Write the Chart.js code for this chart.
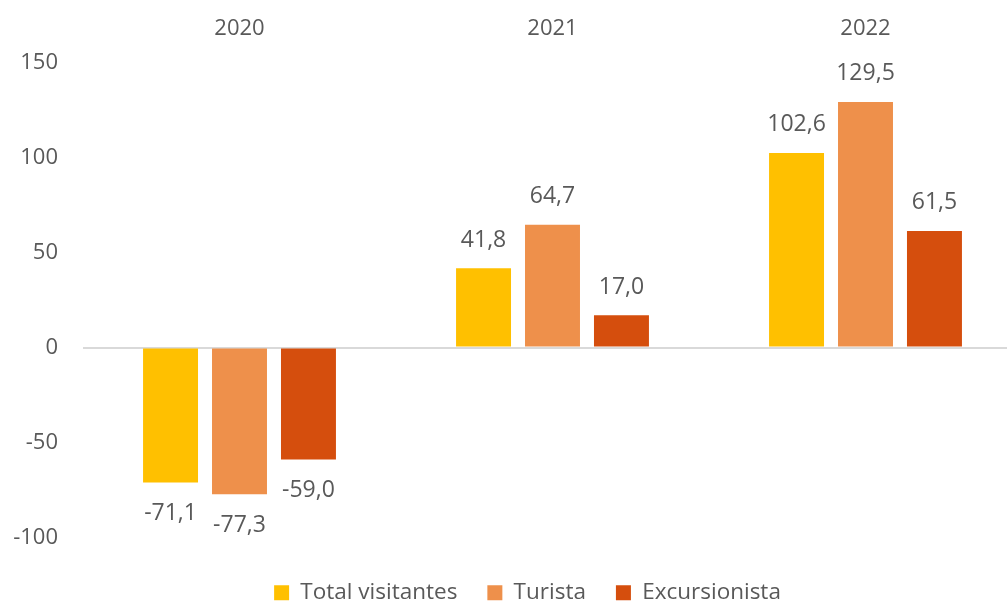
<!DOCTYPE html>
<html>
<head>
<meta charset="utf-8">
<script src="https://cdn.jsdelivr.net/npm/chart.js@4.4.1/dist/chart.umd.min.js"></script>
<style>
html,body{margin:0;padding:0;background:#fff;overflow:hidden;width:1007px;height:601px;}
#wrap{position:relative;width:1055px;height:614px;}
</style>
</head>
<body>
<div id="wrap"><canvas id="c"></canvas></div>
<script>
const categories = ['2020', '2021', '2022'];
const totalVisitantes = [-71.1, 41.8, 102.6];
const turista = [-77.3, 64.7, 129.5];
const excursionista = [-59.0, 17.0, 61.5];
const seriesNames = ['Total visitantes', 'Turista', 'Excursionista'];
const seriesColors = ['#FFC000', '#EE904B', '#D54E0D'];
const yMin = -100, yMax = 150, yStep = 50;

const textColor = '#595959';
const fontFamily = '"Open Sans", "Segoe UI", sans-serif';

const valueLabels = {
  id: 'valueLabels',
  afterDatasetsDraw(chart) {
    const ctx = chart.ctx;
    ctx.save();
    ctx.font = '23px ' + fontFamily;
    ctx.fillStyle = textColor;
    ctx.textAlign = 'center';
    ctx.textBaseline = 'middle';
    chart.data.datasets.forEach((ds, i) => {
      const meta = chart.getDatasetMeta(i);
      meta.data.forEach((bar, j) => {
        const v = ds.data[j];
        const txt = v.toFixed(1).replace('.', ',');
        const y = v >= 0 ? bar.y - 28 : bar.y + 31;
        ctx.fillText(txt, bar.x, y);
      });
    });
    ctx.restore();
  }
};

const legendShift = {
  id: 'legendShift',
  afterLayout(chart) {
    if (chart.legend) {
      chart.legend.left += 11;
      chart.legend.right += 11;
    }
  }
};

new Chart(document.getElementById('c'), {
  type: 'bar',
  data: {
    labels: categories,
    datasets: [
      { label: seriesNames[0], data: totalVisitantes, backgroundColor: seriesColors[0] },
      { label: seriesNames[1], data: turista, backgroundColor: seriesColors[1] },
      { label: seriesNames[2], data: excursionista, backgroundColor: seriesColors[2] }
    ]
  },
  options: {
    responsive: true,
    maintainAspectRatio: false,
    animation: false,
    devicePixelRatio: 1,
    datasets: { bar: { categoryPercentage: 0.661, barPercentage: 0.797 } },
    layout: { padding: { top: 14, left: 11, right: 33, bottom: 0 } },
    plugins: {
      tooltip: { enabled: false },
      legend: {
        position: 'bottom',
        title: { display: true, text: '', font: { size: 1 }, padding: { top: 13, bottom: 0 } },
        labels: {
          color: textColor,
          font: { family: fontFamily, size: 22.5 },
          boxWidth: 15,
          boxHeight: 15,
          padding: 30
        }
      }
    },
    scales: {
      x: {
        position: 'top',
        grid: { display: false, drawTicks: false },
        border: { display: false },
        ticks: { color: textColor, font: { family: fontFamily, size: 22 }, padding: 21 },
        afterFit(scale) { scale.height = 49; }
      },
      y: {
        min: yMin,
        max: yMax,
        border: { display: false },
        grid: {
          drawTicks: false,
          color: (c) => c.tick && c.tick.value === 0 ? '#D9D9D9' : 'rgba(0,0,0,0)',
          lineWidth: 2
        },
        ticks: {
          stepSize: yStep,
          color: textColor,
          font: { family: fontFamily, size: 22 },
          padding: 25
        },
        afterFit(scale) { scale.width = 72; }
      }
    }
  },
  plugins: [valueLabels, legendShift]
});
</script>
</body>
</html>
